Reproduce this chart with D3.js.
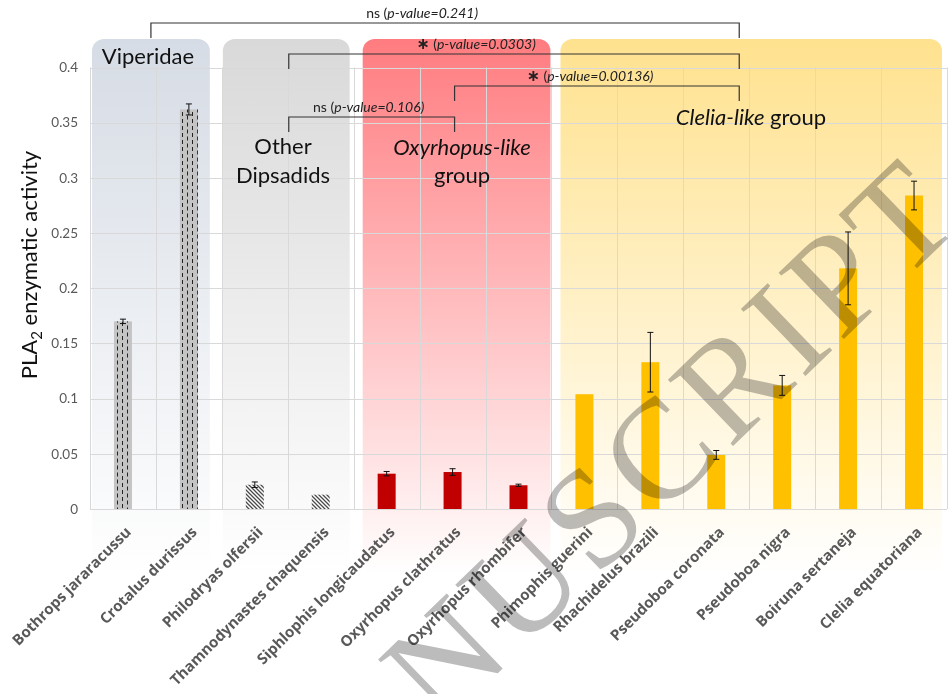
<!DOCTYPE html>
<html>
<head>
  <script src="https://d3js.org/d3.v7.min.js"></script>
  <style>
    body { margin: 0; background: #fff; }
    svg { display: block; font-family: Lato, "Open Sans", sans-serif; }
  </style>
</head>
<body>
  <svg id="chart" width="950" height="694"></svg>
  <script>
    // species on the x axis
    const species = [
      "Bothrops jararacussu", "Crotalus durissus", "Philodryas olfersii",
      "Thamnodynastes chaquensis", "Siphlophis longicaudatus", "Oxyrhopus clathratus",
      "Oxyrhopus rhombifer", "Phimophis guerini", "Rhachidelus brazili",
      "Pseudoboa coronata", "Pseudoboa nigra", "Boiruna sertaneja", "Clelia equatoriana"
    ];
    const means  = [0.170, 0.362, 0.022, 0.013, 0.032, 0.0335, 0.0215, 0.104, 0.133, 0.049, 0.112, 0.218, 0.284];
    const errors = [0.002, 0.005, 0.0025, 0, 0.002, 0.003, 0.001, 0, 0.027, 0.004, 0.009, 0.033, 0.013];
    const groupOf = [0, 0, 1, 1, 2, 2, 2, 3, 3, 3, 3, 3, 3];

    const groupNames = ["Viperidae", "Other Dipsadids", "Oxyrhopus-like group", "Clelia-like group"];
    const yTicks = [0, 0.05, 0.1, 0.15, 0.2, 0.25, 0.3, 0.35, 0.4];
    const yTickLabels = ["0", "0.05", "0.1", "0.15", "0.2", "0.25", "0.3", "0.35", "0.4"];

    // pairwise comparisons between groups (from, to, mark, p-value)
    const compFrom = [0, 1, 2, 1];
    const compTo   = [3, 3, 3, 2];
    const compMark = ["ns", "\u2217", "\u2217", "ns"];
    const compP    = ["0.241", "0.0303", "0.00136", "0.106"];

    // ---- styling / layout ----
    const groupColor = ["#d6dce5", "#d9d9d9", "#ff7c80", "#ffe28f"];
    const barFill = ["url(#dashes)", "url(#diag)", "#c00000", "#ffc000"];
    const boxInset = [[2, 12], [1, 4], [9, 1], [9, 5]];
    const anchorNudge = [-5, 1, 2, -10];
    const compLevel = [23, 54, 86, 117];
    const labelShift = [-23, -38, -7, -3];

    const svg = d3.select("#chart");
    const margin = { left: 90, right: 3, top: 67.5, bottom: 185 };
    const W = 950, H = 694;

    const x = d3.scaleBand().domain(species).range([margin.left, W - margin.right]).padding(0);
    const y = d3.scaleLinear().domain([0, 0.4]).range([H - margin.bottom, margin.top]);
    const barW = 18;

    const defs = svg.append("defs");

    // dashed vertical pattern for Viperidae bars
    const pd = defs.append("pattern").attr("id", "dashes")
      .attr("patternUnits", "userSpaceOnUse").attr("width", 10).attr("height", 7);
    pd.append("rect").attr("width", 10).attr("height", 7).attr("fill", "#c4c4c4");
    pd.append("line").attr("x1", 2.5).attr("x2", 2.5).attr("y1", 0).attr("y2", 4)
      .attr("stroke", "#222").attr("stroke-width", 1);
    pd.append("line").attr("x1", 7.5).attr("x2", 7.5).attr("y1", 3.5).attr("y2", 7)
      .attr("stroke", "#222").attr("stroke-width", 1);
    pd.append("line").attr("x1", 7.5).attr("x2", 7.5).attr("y1", 0).attr("y2", 0.5)
      .attr("stroke", "#222").attr("stroke-width", 1);

    // diagonal stripes for the other dipsadids
    const pg = defs.append("pattern").attr("id", "diag")
      .attr("patternUnits", "userSpaceOnUse").attr("width", 4).attr("height", 4);
    pg.append("rect").attr("width", 4).attr("height", 4).attr("fill", "#fff");
    pg.append("path").attr("d", "M-1,-1L5,5M-1,3L1,5M3,-1L5,1")
      .attr("stroke", "#4a4a4a").attr("stroke-width", 1.3);

    groupColor.forEach((c, i) => {
      const g = defs.append("linearGradient").attr("id", "grad" + i)
        .attr("x1", 0).attr("x2", 0).attr("y1", 0).attr("y2", 1);
      g.append("stop").attr("offset", 0).attr("stop-color", c).attr("stop-opacity", 1);
      g.append("stop").attr("offset", 1).attr("stop-color", c).attr("stop-opacity", 0);
    });

    // group extents in pixels
    const groupBox = groupNames.map((name, gi) => {
      const idx = species.filter((s, i) => groupOf[i] === gi);
      const x0 = x(idx[0]) + boxInset[gi][0];
      const x1 = x(idx[idx.length - 1]) + x.bandwidth() - boxInset[gi][1];
      return { x0, x1, cx: (x(idx[0]) + x(idx[idx.length - 1]) + x.bandwidth()) / 2 };
    });

    svg.append("g").selectAll("rect")
      .data(groupBox)
      .join("rect")
        .attr("x", d => d.x0)
        .attr("y", 39)
        .attr("width", d => d.x1 - d.x0)
        .attr("height", 536)
        .attr("rx", 12)
        .attr("fill", (d, i) => `url(#grad${i})`);

    // gridlines
    const grid = svg.append("g").attr("stroke", "#d9d9d9").attr("stroke-width", 1);
    grid.selectAll("line.h")
      .data(yTicks)
      .join("line").attr("class", "h")
        .attr("x1", margin.left).attr("x2", W - margin.right)
        .attr("y1", d => Math.round(y(d)) + 0.5).attr("y2", d => Math.round(y(d)) + 0.5);
    grid.selectAll("line.v")
      .data(species.concat([null]))
      .join("line").attr("class", "v")
        .attr("x1", (d, i) => Math.round(margin.left + i * x.bandwidth()) + 0.5)
        .attr("x2", (d, i) => Math.round(margin.left + i * x.bandwidth()) + 0.5)
        .attr("y1", y(0.4)).attr("y2", y(0));

    // y tick labels
    svg.append("g").selectAll("text")
      .data(yTicks)
      .join("text")
        .attr("x", 78)
        .attr("y", d => y(d))
        .attr("dy", "0.35em")
        .attr("text-anchor", "end")
        .attr("fill", "#595959")
        .attr("font-size", 13.5)
        .text((d, i) => yTickLabels[i]);

    // y axis title
    const yt = svg.append("text")
      .attr("transform", "translate(37,265) rotate(-90)")
      .attr("text-anchor", "middle")
      .attr("font-size", 22)
      .attr("fill", "#111");
    yt.append("tspan").text("PLA");
    yt.append("tspan").attr("font-size", 15).attr("dy", 5).text("2");
    yt.append("tspan").attr("dy", -5).text(" enzymatic activity");

    // bars
    const cx = s => x(s) + x.bandwidth() / 2;
    svg.append("g").selectAll("rect")
      .data(species)
      .join("rect")
        .attr("x", d => cx(d) - barW / 2)
        .attr("y", (d, i) => y(means[i]))
        .attr("width", barW)
        .attr("height", (d, i) => y(0) - y(means[i]))
        .attr("fill", (d, i) => barFill[groupOf[i]]);

    // error bars
    const eb = svg.append("g").attr("stroke", "#111").attr("stroke-width", 1)
      .selectAll("g")
      .data(species.filter((s, i) => errors[i] > 0))
      .join("g");
    const idxOf = s => species.indexOf(s);
    eb.append("line")
      .attr("x1", d => cx(d)).attr("x2", d => cx(d))
      .attr("y1", d => y(means[idxOf(d)] - errors[idxOf(d)]))
      .attr("y2", d => y(means[idxOf(d)] + errors[idxOf(d)]));
    [-1, 1].forEach(sgn => {
      eb.append("line")
        .attr("x1", d => cx(d) - 3).attr("x2", d => cx(d) + 3)
        .attr("y1", d => y(means[idxOf(d)] + sgn * errors[idxOf(d)]))
        .attr("y2", d => y(means[idxOf(d)] + sgn * errors[idxOf(d)]));
    });

    // x labels
    svg.append("g").selectAll("text")
      .data(species)
      .join("text")
        .attr("transform", d => `translate(${cx(d) + 9},${y(0) + 24}) rotate(-45)`)
        .attr("text-anchor", "end")
        .attr("font-family", "'Open Sans', sans-serif")
        .attr("font-weight", 700)
        .attr("font-size", 15)
        .attr("fill", "#595959")
        .text(d => d);

    // group titles
    const titles = svg.append("g").attr("font-size", 22).attr("fill", "#111").attr("text-anchor", "middle");
    titles.append("text").attr("x", 148).attr("y", 64).text("Viperidae");
    const od = titles.append("text").attr("x", 283).attr("y", 154);
    od.append("tspan").attr("x", 283).text("Other");
    od.append("tspan").attr("x", 283).attr("dy", 29).text("Dipsadids");
    const ox = titles.append("text").attr("x", 462).attr("y", 155);
    ox.append("tspan").attr("x", 462).attr("font-style", "italic").text("Oxyrhopus-like");
    ox.append("tspan").attr("x", 462).attr("dy", 28).text("group");
    const cl = titles.append("text").attr("x", 751).attr("y", 125);
    cl.append("tspan").attr("font-style", "italic").text("Clelia-like");
    cl.append("tspan").text(" group");

    // comparison brackets
    const anchorX = gi => groupBox[gi].cx + anchorNudge[gi];
    const br = svg.append("g").selectAll("g")
      .data(compFrom.map((f, i) => i))
      .join("g");
    br.append("path")
      .attr("d", i => {
        const a = anchorX(compFrom[i]), b = anchorX(compTo[i]), l = compLevel[i];
        return `M${a},${l + 15}V${l}H${b}V${l + 15}`;
      })
      .attr("fill", "none")
      .attr("stroke", "#333")
      .attr("stroke-width", 1.2);
    const bl = br.append("text")
      .attr("x", i => (anchorX(compFrom[i]) + anchorX(compTo[i])) / 2 + labelShift[i])
      .attr("y", i => compLevel[i] - 5)
      .attr("text-anchor", "middle")
      .attr("font-size", 14)
      .attr("fill", "#222");
    bl.append("tspan")
      .attr("font-family", i => compMark[i] === "ns" ? null : "'DejaVu Sans', sans-serif")
      .attr("font-weight", i => compMark[i] === "ns" ? null : 700)
      .attr("font-size", i => compMark[i] === "ns" ? 14 : 16)
      .text(i => compMark[i]);
    bl.append("tspan").text(" (");
    bl.append("tspan").attr("font-style", "italic").text(i => "p-value=" + compP[i] + ")");

    // watermark
    svg.append("text")
      .attr("transform", "translate(968,219) rotate(-44)")
      .attr("text-anchor", "end")
      .attr("font-family", "'Liberation Serif', 'DejaVu Serif', serif")
      .attr("font-size", 142)
      .attr("letter-spacing", 6)
      .attr("fill", "#bcbcbc")
      .style("mix-blend-mode", "multiply")
      .text("NUSCRIPT");
  </script>
</body>
</html>
